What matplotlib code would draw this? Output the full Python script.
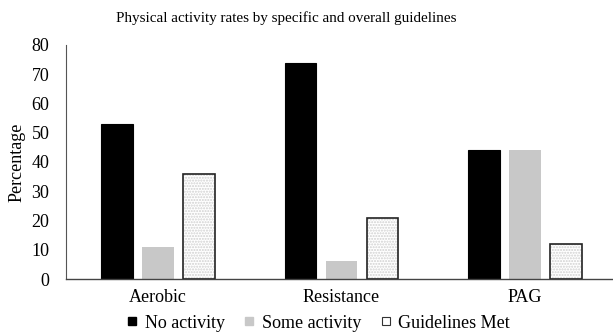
import numpy as np
import matplotlib
matplotlib.use("Agg")
import matplotlib.pyplot as plt
from matplotlib.lines import Line2D

plt.rcParams['font.family'] = ['Liberation Serif', 'DejaVu Serif']

categories = ["Aerobic", "Resistance", "PAG"]
no_activity = [53, 74, 44]
some_activity = [11, 6, 44]
guidelines_met = [36, 21, 12]
series_names = ["No activity", "Some activity", "Guidelines Met"]

fig = plt.figure(figsize=(6.13, 3.32), dpi=100)
ax = fig.add_axes([0.1077, 0.1596, 0.8988, 0.7049])

x = np.arange(len(categories))
w = 0.172
step = 0.223

ax.bar(x - step, no_activity, w, color="black", edgecolor="black", linewidth=0.8)
ax.bar(x, some_activity, w, color="#c8c8c8", linewidth=0)
# stipple fill for guidelines met, then black outline on top
ax.bar(x + step, guidelines_met, w, color="white", edgecolor="#d0d0d0",
       hatch="......", linewidth=0)
ax.bar(x + step, guidelines_met, w, fill=False, edgecolor="#222222", linewidth=1.2)

ax.set_xlim(-0.5, 2.5)
ax.set_ylim(0, 80)
ax.set_yticks(range(0, 81, 10))
ax.set_xticks(x)
ax.set_xticklabels(categories)
ax.tick_params(axis="both", length=0, labelsize=13)
ax.tick_params(axis="x", pad=7)
ax.tick_params(axis="y", pad=12)
for s in ["top", "right"]:
    ax.spines[s].set_visible(False)
ax.spines["left"].set_color("#555555")
ax.spines["left"].set_linewidth(0.8)
ax.spines["bottom"].set_color("#444444")
ax.spines["bottom"].set_linewidth(1.0)

ax.set_ylabel("Percentage", fontsize=13, labelpad=4)
fig.text(0.467, 0.945, "Physical activity rates by specific and overall guidelines",
         ha="center", va="center", fontsize=10.9)

handles = [Line2D([], [], marker="s", linestyle="none", markersize=6.2,
                  markerfacecolor="black", markeredgecolor="black"),
           Line2D([], [], marker="s", linestyle="none", markersize=6.2,
                  markerfacecolor="#c8c8c8", markeredgecolor="#c8c8c8"),
           Line2D([], [], marker="s", linestyle="none", markersize=6.2,
                  markerfacecolor="white", markeredgecolor="#333333", markeredgewidth=0.8)]
fig.legend(handles, series_names, loc="center", bbox_to_anchor=(0.52, 0.027),
           ncol=3, frameon=False, fontsize=13, handlelength=0.5,
           handletextpad=0.45, columnspacing=1.1, borderpad=0)

fig.savefig("out.png", dpi=100)
